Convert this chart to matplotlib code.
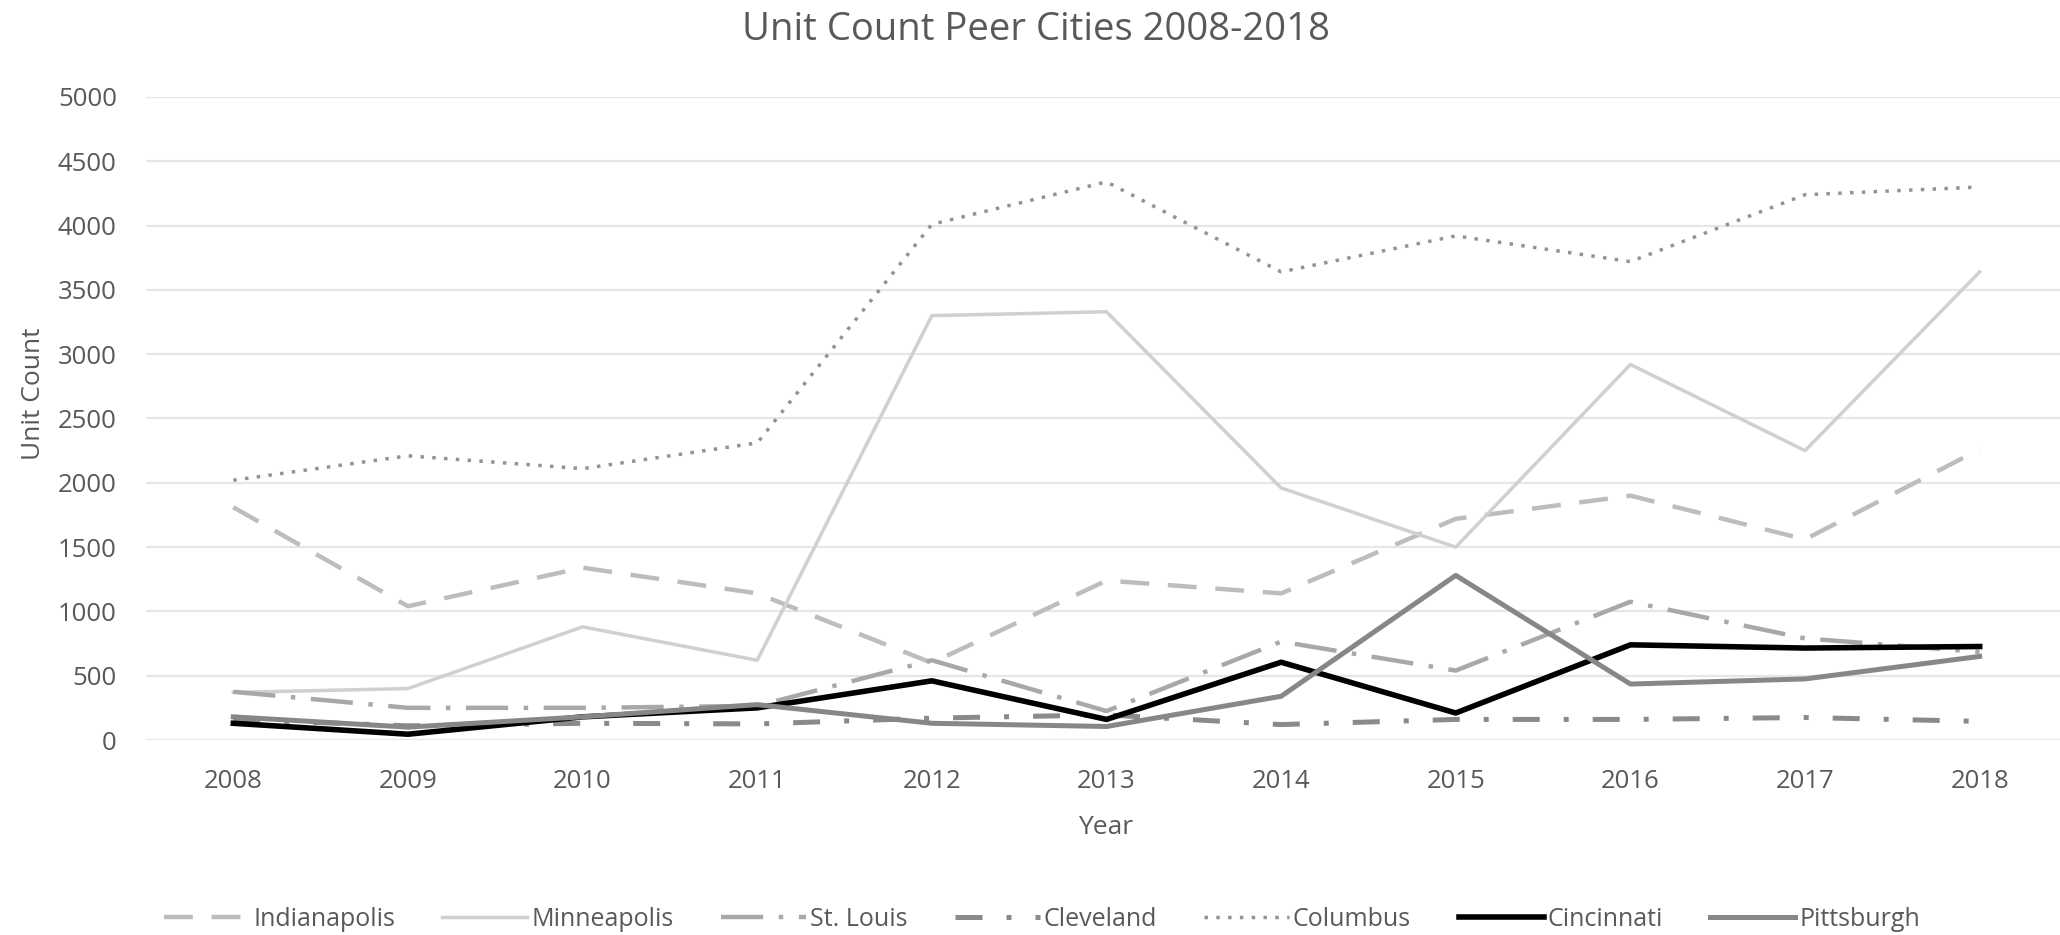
import matplotlib
matplotlib.use("Agg")
import matplotlib.pyplot as plt

plt.rcParams['font.family'] = ['Open Sans', 'DejaVu Sans']

years = ["2008", "2009", "2010", "2011", "2012", "2013", "2014", "2015", "2016", "2017", "2018"]

indianapolis = [1810, 1040, 1340, 1140, 600, 1240, 1140, 1720, 1900, 1560, 2260]
minneapolis = [370, 400, 880, 620, 3300, 3330, 1960, 1500, 2920, 2250, 3640]
st_louis = [375, 250, 250, 265, 620, 225, 765, 540, 1075, 790, 685]
cleveland = [160, 110, 130, 125, 170, 195, 120, 160, 160, 175, 145]
columbus = [2020, 2210, 2110, 2310, 4010, 4340, 3640, 3920, 3720, 4240, 4300]
cincinnati = [130, 45, 180, 250, 460, 160, 605, 210, 740, 715, 727]
pittsburgh = [180, 100, 180, 275, 130, 105, 340, 1280, 435, 475, 650]

text_col = "#595959"

fig = plt.figure(figsize=(20.6, 9.35), dpi=100)
ax = fig.add_axes([146 / 2060, 1 - 740 / 935, (2067 - 146) / 2060, (740 - 97) / 935])

x = list(range(len(years)))

ax.plot(x, indianapolis, color="#bdbdbd", lw=3.2, dashes=(6.5, 4.2), label="Indianapolis")
ax.plot(x, minneapolis, color="#d0d0d0", lw=2.5, label="Minneapolis")
ax.plot(x, st_louis, color="#a8a8a8", lw=3.2, dashes=(9.5, 3.5, 1, 3.5), label="St. Louis")
ax.plot(x, cleveland, color="#8a8a8a", lw=3.6, dashes=(5.4, 4.8, 1, 4.8), label="Cleveland")
ax.plot(x, columbus, color="#939393", lw=2.5, dashes=(1, 2.4), label="Columbus")
ax.plot(x, cincinnati, color="#000000", lw=4.0, label="Cincinnati")
ax.plot(x, pittsburgh, color="#878787", lw=3.6, label="Pittsburgh")

ax.set_xlim(-0.5, len(years) - 0.5)
ax.set_ylim(0, 5000)
ax.set_yticks(range(0, 5001, 500))
ax.set_xticks(x)
ax.set_xticklabels(years)
ax.yaxis.grid(True, color="#e6e6e6", lw=1.6)
ax.set_axisbelow(True)
for s in ax.spines.values():
    s.set_visible(False)
ax.tick_params(axis="both", length=0, labelsize=18.5, colors=text_col, pad=21)

fig.text(1036 / 2060, 1 - 30 / 935, "Unit Count Peer Cities 2008-2018",
         ha="center", va="center", fontsize=27.5, color=text_col)
fig.text(1106 / 2060, 1 - 828 / 935, "Year", ha="center", va="center", fontsize=19, color=text_col)
fig.text(33 / 2060, 1 - 394 / 935, "Unit Count", ha="center", va="center", rotation=90,
         fontsize=19, color=text_col)

leg = fig.legend(loc="center", bbox_to_anchor=(1042 / 2060, 16 / 935), ncol=7, frameon=False,
                 fontsize=18, handlelength=3.4, handletextpad=0.15, columnspacing=1.9)
for t in leg.get_texts():
    t.set_color(text_col)

fig.savefig("out.png", dpi=100, facecolor="white")
